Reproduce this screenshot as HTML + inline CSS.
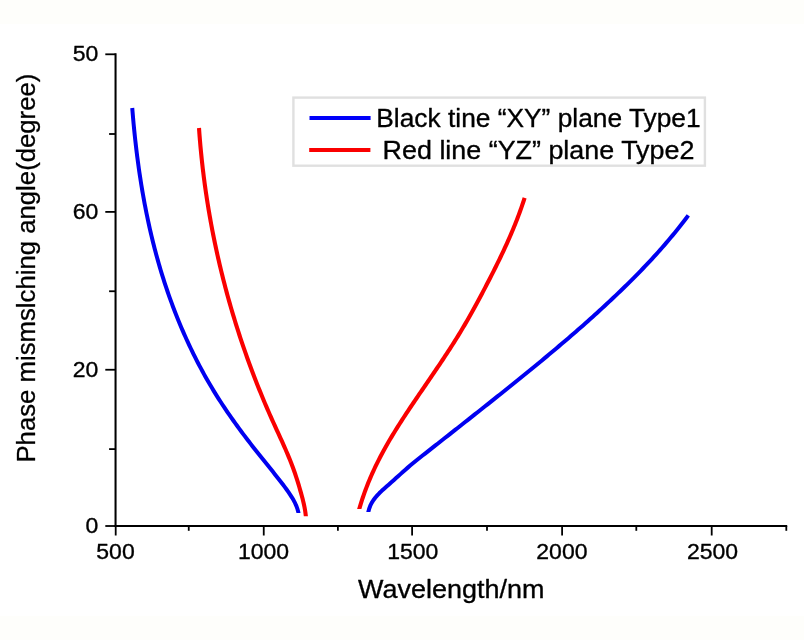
<!DOCTYPE html>
<html lang="en">
<head>
<meta charset="utf-8">
<title>Phase matching angle vs wavelength</title>
<style>
html,body{margin:0;padding:0;background:#fff;}
body{width:804px;height:640px;overflow:hidden;position:relative;}
svg{position:absolute;left:0;top:0;display:block;}
text{font-family:"Liberation Sans",Arial,Helvetica,sans-serif;fill:#000;stroke:#000;stroke-width:0.35px;stroke-linejoin:round;}
.tick{font-size:22.6px;}
.leg{font-size:26.4px;}
.xl{font-size:26.7px;}
.yl{font-size:26.6px;stroke-width:0.3px;}
</style>
</head>
<body>
<svg width="804" height="640" viewBox="0 0 804 640">
<rect x="0" y="0" width="804" height="640" fill="#ffffff"/>
<rect x="0" y="0" width="804" height="24" fill="#fefefb"/>
<rect x="0" y="616" width="804" height="24" fill="#fefefb"/>

<g stroke="#000" stroke-width="2.25" fill="none" stroke-linecap="butt">
<path d="M115.55,53.30 V526.95" stroke-width="2.05"/>
<path d="M114.53,525.95 H787.20" stroke-width="1.95"/>
</g>
<g stroke="#000" stroke-width="1.8" fill="none" stroke-linecap="butt">
<path d="M115.70,526.00 V535.50"/>
<path d="M263.75,526.00 V535.50"/>
<path d="M412.10,526.00 V535.50"/>
<path d="M562.10,526.00 V535.50"/>
<path d="M711.70,526.00 V535.50"/>
<path d="M188.75,526.00 V530.80"/>
<path d="M337.90,526.00 V530.80"/>
<path d="M487.00,526.00 V530.80"/>
<path d="M636.30,526.00 V530.80"/>
<path d="M786.30,526.00 V530.80"/>
<path d="M115.55,54.30 H105.30"/>
<path d="M115.55,211.90 H105.30"/>
<path d="M115.55,369.75 H105.30"/>
<path d="M115.55,526.00 H105.30"/>
<path d="M115.55,134.00 H109.10"/>
<path d="M115.55,291.25 H109.10"/>
<path d="M115.55,449.10 H109.10"/>
</g>
<text class="tick" transform="translate(115.50,559.30) scale(1.018,1)" text-anchor="middle">500</text>
<text class="tick" transform="translate(263.55,559.30) scale(1.018,1)" text-anchor="middle">1000</text>
<text class="tick" transform="translate(412.80,559.30) scale(1.018,1)" text-anchor="middle">1500</text>
<text class="tick" transform="translate(561.90,559.30) scale(1.018,1)" text-anchor="middle">2000</text>
<text class="tick" transform="translate(712.50,559.30) scale(1.018,1)" text-anchor="middle">2500</text>
<text class="tick" transform="translate(98.40,61.15) scale(1.018,1)" text-anchor="end">50</text>
<text class="tick" transform="translate(98.40,218.75) scale(1.018,1)" text-anchor="end">60</text>
<text class="tick" transform="translate(98.40,376.60) scale(1.018,1)" text-anchor="end">20</text>
<text class="tick" transform="translate(98.40,532.85) scale(1.018,1)" text-anchor="end">0</text>
<text class="xl" x="358.1" y="597.5" textLength="186.3" lengthAdjust="spacingAndGlyphs">Wavelength/nm</text>
<text class="yl" transform="translate(35.0,268.1) rotate(-90) scale(0.9678,1)" text-anchor="middle">Phase mismslching angle(degree)</text>
<defs>
<clipPath id="c0"><rect x="100" y="60" width="700" height="452.90"/></clipPath>
<clipPath id="c1"><rect x="100" y="60" width="700" height="456.30"/></clipPath>
<clipPath id="c2"><rect x="100" y="60" width="700" height="449.10"/></clipPath>
<clipPath id="c3"><rect x="100" y="60" width="700" height="452.00"/></clipPath>
</defs>
<g fill="none" stroke-linecap="butt" stroke-linejoin="round">
<path clip-path="url(#c0)" stroke="#0000f0" stroke-width="4.0" d="M132.24,108.00 L132.50,111.21 L132.77,114.43 L133.05,117.64 L133.34,120.85 L133.63,124.07 L133.94,127.28 L134.26,130.49 L134.59,133.70 L134.92,136.91 L135.27,140.12 L135.63,143.33 L136.00,146.54 L136.38,149.75 L136.78,152.96 L137.18,156.16 L137.59,159.37 L138.02,162.57 L138.46,165.77 L138.91,168.97 L139.37,172.17 L139.85,175.37 L140.34,178.56 L140.84,181.76 L141.35,184.95 L141.88,188.14 L142.41,191.32 L142.97,194.51 L143.53,197.69 L144.11,200.87 L144.70,204.05 L145.31,207.22 L145.93,210.39 L146.57,213.56 L147.22,216.72 L147.88,219.89 L148.56,223.04 L149.26,226.20 L149.96,229.35 L150.69,232.50 L151.43,235.64 L152.18,238.78 L152.95,241.92 L153.74,245.05 L154.54,248.18 L155.36,251.31 L156.20,254.43 L157.05,257.54 L157.92,260.65 L158.80,263.76 L159.71,266.86 L160.62,269.96 L161.56,273.05 L162.51,276.14 L163.48,279.22 L164.47,282.29 L165.48,285.36 L166.50,288.43 L167.54,291.49 L168.60,294.54 L169.67,297.58 L170.77,300.62 L171.88,303.66 L173.00,306.68 L174.15,309.70 L175.31,312.72 L176.50,315.72 L177.69,318.72 L178.91,321.71 L180.15,324.69 L181.40,327.67 L182.67,330.64 L183.96,333.59 L185.27,336.55 L186.60,339.49 L187.95,342.42 L189.31,345.35 L190.69,348.26 L192.09,351.17 L193.51,354.07 L194.95,356.96 L196.41,359.84 L197.89,362.71 L199.38,365.57 L200.90,368.42 L202.43,371.26 L203.98,374.09 L205.56,376.91 L207.15,379.72 L208.76,382.51 L210.39,385.30 L212.04,388.08 L213.71,390.84 L215.39,393.60 L217.10,396.34 L218.83,399.07 L220.58,401.79 L222.34,404.50 L224.13,407.20 L225.93,409.88 L227.75,412.56 L229.58,415.22 L231.44,417.87 L233.30,420.52 L235.18,423.15 L237.08,425.77 L238.98,428.39 L240.91,430.99 L242.84,433.58 L244.78,436.17 L246.74,438.74 L248.70,441.31 L250.68,443.87 L252.66,446.42 L254.65,448.96 L256.65,451.50 L258.66,454.02 L260.67,456.54 L262.69,459.06 L264.71,461.57 L266.73,464.08 L268.75,466.59 L270.76,469.10 L272.78,471.62 L274.79,474.14 L276.79,476.67 L278.78,479.21 L280.76,481.76 L282.73,484.33 L284.68,486.91 L286.60,489.52 L288.47,492.15 L290.28,494.83 L292.02,497.55 L293.65,500.34 L295.13,503.19 L296.43,506.14 L297.51,509.17 L298.34,512.30 L298.88,515.52"/>
<path clip-path="url(#c1)" stroke="#fa0000" stroke-width="4.1" d="M199.00,128.00 L199.21,130.93 L199.42,133.86 L199.65,136.78 L199.89,139.71 L200.14,142.63 L200.39,145.56 L200.66,148.48 L200.94,151.40 L201.23,154.32 L201.53,157.24 L201.83,160.16 L202.15,163.08 L202.48,165.99 L202.82,168.91 L203.17,171.82 L203.53,174.73 L203.90,177.64 L204.28,180.55 L204.66,183.46 L205.06,186.36 L205.47,189.27 L205.89,192.17 L206.32,195.07 L206.76,197.97 L207.21,200.87 L207.66,203.77 L208.13,206.66 L208.61,209.56 L209.10,212.45 L209.60,215.34 L210.11,218.23 L210.62,221.11 L211.15,224.00 L211.69,226.88 L212.24,229.76 L212.79,232.64 L213.36,235.51 L213.94,238.39 L214.52,241.26 L215.12,244.13 L215.73,247.00 L216.34,249.87 L216.97,252.73 L217.60,255.60 L218.25,258.46 L218.91,261.31 L219.57,264.17 L220.24,267.02 L220.93,269.87 L221.62,272.72 L222.33,275.57 L223.04,278.41 L223.76,281.25 L224.50,284.09 L225.24,286.93 L225.99,289.76 L226.75,292.60 L227.52,295.42 L228.30,298.25 L229.10,301.07 L229.90,303.90 L230.71,306.71 L231.52,309.53 L232.35,312.34 L233.19,315.15 L234.04,317.96 L234.90,320.76 L235.76,323.57 L236.64,326.36 L237.53,329.16 L238.42,331.95 L239.33,334.74 L240.24,337.53 L241.17,340.31 L242.10,343.10 L243.04,345.87 L244.00,348.65 L244.96,351.42 L245.93,354.19 L246.91,356.95 L247.90,359.71 L248.90,362.47 L249.91,365.23 L250.93,367.98 L251.95,370.73 L252.99,373.47 L254.04,376.21 L255.09,378.95 L256.16,381.69 L257.23,384.42 L258.32,387.15 L259.41,389.87 L260.51,392.59 L261.62,395.31 L262.74,398.02 L263.87,400.73 L265.01,403.44 L266.16,406.14 L267.32,408.84 L268.48,411.53 L269.66,414.22 L270.85,416.91 L272.04,419.59 L273.24,422.27 L274.46,424.95 L275.68,427.62 L276.90,430.29 L278.12,432.96 L279.35,435.63 L280.57,438.30 L281.78,440.97 L282.99,443.65 L284.18,446.33 L285.37,449.01 L286.53,451.70 L287.68,454.39 L288.81,457.10 L289.92,459.81 L291.00,462.53 L292.05,465.26 L293.08,468.00 L294.07,470.76 L295.04,473.52 L295.97,476.29 L296.88,479.08 L297.76,481.87 L298.61,484.68 L299.44,487.49 L300.25,490.32 L301.05,493.14 L301.84,495.97 L302.59,498.81 L303.30,501.65 L303.95,504.51 L304.54,507.38 L305.06,510.26 L305.49,513.16 L305.83,516.07 L306.06,519.01"/>
<path clip-path="url(#c2)" stroke="#fa0000" stroke-width="4.1" d="M358.40,512.01 L359.09,509.54 L359.82,507.07 L360.56,504.60 L361.32,502.15 L362.11,499.70 L362.92,497.27 L363.76,494.84 L364.61,492.42 L365.49,490.01 L366.39,487.61 L367.32,485.21 L368.26,482.83 L369.23,480.46 L370.22,478.09 L371.24,475.74 L372.27,473.40 L373.33,471.07 L374.41,468.74 L375.51,466.43 L376.63,464.13 L377.77,461.83 L378.92,459.55 L380.10,457.27 L381.29,455.00 L382.50,452.74 L383.72,450.49 L384.97,448.24 L386.22,446.00 L387.49,443.77 L388.78,441.55 L390.08,439.33 L391.39,437.12 L392.71,434.92 L394.05,432.72 L395.40,430.53 L396.75,428.34 L398.12,426.16 L399.50,423.99 L400.88,421.82 L402.28,419.65 L403.68,417.49 L405.09,415.34 L406.50,413.18 L407.92,411.04 L409.35,408.89 L410.78,406.75 L412.22,404.61 L413.66,402.48 L415.10,400.34 L416.55,398.22 L417.99,396.09 L419.44,393.96 L420.89,391.84 L422.34,389.72 L423.79,387.60 L425.24,385.48 L426.69,383.36 L428.14,381.24 L429.59,379.12 L431.04,377.00 L432.48,374.89 L433.93,372.77 L435.37,370.64 L436.80,368.52 L438.24,366.40 L439.67,364.27 L441.10,362.14 L442.52,360.01 L443.94,357.88 L445.35,355.74 L446.76,353.60 L448.16,351.46 L449.55,349.31 L450.94,347.16 L452.32,345.01 L453.69,342.84 L455.06,340.68 L456.42,338.51 L457.77,336.33 L459.11,334.15 L460.44,331.96 L461.76,329.76 L463.07,327.56 L464.37,325.35 L465.67,323.14 L466.95,320.92 L468.23,318.69 L469.50,316.46 L470.76,314.23 L472.02,311.99 L473.26,309.74 L474.51,307.49 L475.74,305.24 L476.97,302.98 L478.19,300.72 L479.40,298.46 L480.61,296.19 L481.82,293.92 L483.02,291.65 L484.22,289.37 L485.41,287.09 L486.60,284.81 L487.78,282.53 L488.96,280.24 L490.13,277.96 L491.30,275.67 L492.47,273.37 L493.63,271.08 L494.78,268.78 L495.93,266.48 L497.07,264.18 L498.20,261.87 L499.33,259.56 L500.45,257.25 L501.56,254.93 L502.66,252.61 L503.75,250.29 L504.83,247.96 L505.90,245.63 L506.96,243.29 L508.02,240.95 L509.05,238.60 L510.08,236.25 L511.10,233.90 L512.10,231.53 L513.09,229.17 L514.07,226.80 L515.03,224.42 L515.98,222.04 L516.92,219.65 L517.84,217.26 L518.74,214.86 L519.63,212.45 L520.51,210.04 L521.37,207.62 L522.21,205.19 L523.03,202.76 L523.84,200.32 L524.62,197.87"/>
<path clip-path="url(#c3)" stroke="#0000f0" stroke-width="4.0" d="M367.91,515.09 L368.36,511.80 L369.17,508.68 L370.29,505.72 L371.70,502.91 L373.35,500.26 L375.21,497.74 L377.26,495.34 L379.44,493.04 L381.74,490.82 L384.11,488.65 L386.52,486.52 L388.94,484.41 L391.34,482.31 L393.71,480.19 L396.06,478.08 L398.39,475.97 L400.73,473.87 L403.06,471.77 L405.41,469.69 L407.78,467.62 L410.17,465.57 L412.60,463.53 L415.06,461.52 L417.54,459.52 L420.04,457.53 L422.55,455.55 L425.07,453.57 L427.58,451.59 L430.09,449.62 L432.60,447.64 L435.12,445.67 L437.62,443.70 L440.13,441.73 L442.64,439.76 L445.14,437.79 L447.65,435.82 L450.15,433.85 L452.65,431.89 L455.15,429.92 L457.65,427.95 L460.15,425.99 L462.64,424.02 L465.14,422.05 L467.63,420.08 L470.12,418.12 L472.62,416.15 L475.11,414.18 L477.60,412.21 L480.09,410.24 L482.57,408.27 L485.06,406.30 L487.55,404.32 L490.03,402.35 L492.52,400.37 L495.00,398.39 L497.48,396.42 L499.96,394.44 L502.44,392.45 L504.92,390.47 L507.40,388.48 L509.88,386.50 L512.35,384.51 L514.83,382.51 L517.30,380.52 L519.77,378.52 L522.24,376.52 L524.71,374.52 L527.17,372.52 L529.64,370.51 L532.10,368.50 L534.56,366.48 L537.01,364.47 L539.47,362.45 L541.92,360.42 L544.37,358.39 L546.81,356.36 L549.25,354.33 L551.69,352.29 L554.13,350.25 L556.56,348.20 L558.99,346.15 L561.41,344.09 L563.83,342.03 L566.25,339.97 L568.66,337.90 L571.07,335.82 L573.47,333.74 L575.87,331.66 L578.27,329.57 L580.66,327.48 L583.05,325.38 L585.43,323.27 L587.80,321.16 L590.17,319.04 L592.54,316.92 L594.90,314.80 L597.25,312.66 L599.60,310.52 L601.95,308.38 L604.28,306.22 L606.62,304.06 L608.94,301.90 L611.26,299.73 L613.57,297.55 L615.88,295.36 L618.18,293.17 L620.47,290.97 L622.76,288.76 L625.04,286.55 L627.30,284.32 L629.56,282.09 L631.82,279.85 L634.06,277.60 L636.29,275.34 L638.52,273.08 L640.73,270.80 L642.94,268.51 L645.13,266.22 L647.32,263.91 L649.49,261.60 L651.65,259.27 L653.80,256.93 L655.94,254.59 L658.06,252.23 L660.17,249.86 L662.27,247.48 L664.36,245.08 L666.44,242.68 L668.50,240.26 L670.54,237.83 L672.57,235.39 L674.59,232.94 L676.59,230.47 L678.58,227.99 L680.55,225.49 L682.51,222.99 L684.45,220.47 L686.38,217.93 L688.28,215.38"/>
</g>
<rect x="293.4" y="97.6" width="411.5" height="68.1" fill="#fff" stroke="#e0e0e0" stroke-width="2.4"/>
<path d="M309.5,118 H370.6" stroke="#0000fa" stroke-width="3.8" fill="none"/>
<path d="M309.2,150 H370.4" stroke="#fa0000" stroke-width="4" fill="none"/>
<text class="leg" x="376.3" y="126.8" textLength="324.3" lengthAdjust="spacingAndGlyphs">Black tine “XY” plane Type1</text>
<text class="leg" x="382.6" y="158.6" textLength="311.8" lengthAdjust="spacingAndGlyphs">Red line “YZ” plane Type2</text>
</svg>
</body>
</html>
